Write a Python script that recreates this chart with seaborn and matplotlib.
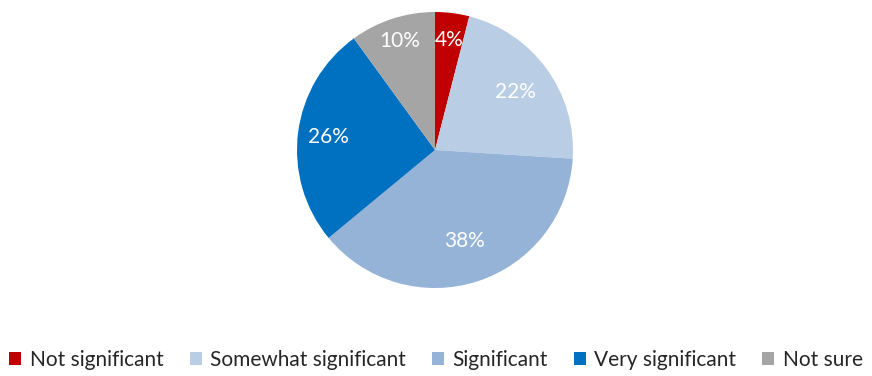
import matplotlib
matplotlib.use("Agg")
import matplotlib.pyplot as plt
import seaborn as sns
import numpy as np

categories = ["Not significant", "Somewhat significant", "Significant", "Very significant", "Not sure"]
shares = [4, 22, 38, 26, 10]
colors = ["#C00000", "#B9CDE5", "#95B3D7", "#0070C0", "#A5A5A5"]
label_radius = [0.80, 0.72, 0.69, 0.78, 0.83]

sns.set_theme(style="white")
plt.rcParams["font.family"] = ["Lato", "DejaVu Sans"]

W, H = 872, 376
fig = plt.figure(figsize=(W / 100, H / 100), dpi=100)
cx, cy, r = 435, 150, 138
ax = fig.add_axes([(cx - r) / W, (H - cy - r) / H, 2 * r / W, 2 * r / H])

wedges, _ = ax.pie(shares, colors=colors, startangle=90, counterclock=False,
                   radius=1, wedgeprops=dict(linewidth=0))
for w, val, rad in zip(wedges, shares, label_radius):
    ang = np.deg2rad((w.theta1 + w.theta2) / 2)
    ax.text(rad * np.cos(ang), rad * np.sin(ang), f"{val}%", ha="center", va="center",
            color="white", fontsize=15)
ax.set_xlim(-1, 1)
ax.set_ylim(-1, 1)
ax.set_aspect("equal")
ax.axis("off")

fig.legend(wedges, categories, loc="center", bbox_to_anchor=(0.5, 0.042), ncol=5,
           frameon=False, fontsize=15, handlelength=0.58, handleheight=0.58,
           handletextpad=0.4, columnspacing=1.25)

fig.savefig("out.png", dpi=100, facecolor="white")
